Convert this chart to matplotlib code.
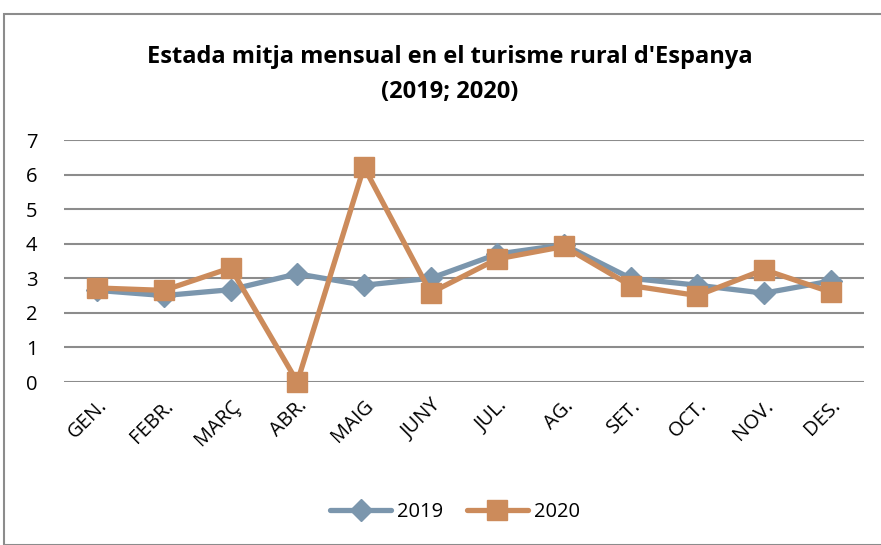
import matplotlib
matplotlib.use("Agg")
import matplotlib.pyplot as plt
from matplotlib.patches import Rectangle

months = ["GEN.", "FEBR.", "MARÇ", "ABR.", "MAIG", "JUNY", "JUL.", "AG.", "SET.", "OCT.", "NOV.", "DES."]
v2019 = [2.65, 2.5, 2.67, 3.13, 2.8, 3.0, 3.7, 3.97, 3.0, 2.8, 2.57, 2.92]
v2020 = [2.72, 2.65, 3.3, 0.0, 6.22, 2.58, 3.56, 3.92, 2.79, 2.5, 3.25, 2.6]
yticks = [0, 1, 2, 3, 4, 5, 6, 7]

plt.rcParams['font.family'] = ['Open Sans', 'DejaVu Sans']

fig = plt.figure(figsize=(8.81, 5.45), dpi=100)
fig.patches.append(Rectangle((4/881, 0), 1.0, 1 - 14/545, transform=fig.transFigure,
                             fill=False, edgecolor='#8c8c8c', linewidth=1.5))
ax = fig.add_axes([64/881, 1 - 382/545, 800/881, 242/545])

x = list(range(len(months)))
ax.plot(x, v2019, color='#7b96ad', lw=3.8, marker='D', markersize=11,
        label='2019', clip_on=False, zorder=3, solid_capstyle='round')
ax.plot(x, v2020, color='#cc8b5b', lw=3.8, marker='s', markersize=14,
        label='2020', clip_on=False, zorder=4, solid_capstyle='round')

ax.set_xlim(-0.5, 11.5)
ax.set_ylim(0, 7)
ax.set_yticks(yticks)
ax.set_yticklabels([str(t) for t in yticks], fontsize=14.5)
ax.set_xticks(x)
ax.set_xticklabels(months, fontsize=14.5, rotation=45, ha='right', rotation_mode='anchor')
ax.tick_params(axis='x', length=0, pad=10)
ax.tick_params(axis='y', length=0, pad=19)
ax.grid(axis='y', color='#8c8c8c', linewidth=1.5)
ax.set_axisbelow(True)
for s in ax.spines.values():
    s.set_visible(False)

fig.text(450/881, 1 - 57/545, "Estada mitja mensual en el turisme rural d'Espanya",
         ha='center', va='center', fontsize=17, fontweight='bold')
fig.text(450/881, 1 - 92/545, "(2019; 2020)", ha='center', va='center',
         fontsize=17, fontweight='bold')

fig.legend(loc='center', bbox_to_anchor=(455/881, 1 - 512/545), ncol=2, frameon=False,
           fontsize=14.5, handlelength=3, columnspacing=1.2, handletextpad=0.3)

fig.savefig("out.png", dpi=100)
